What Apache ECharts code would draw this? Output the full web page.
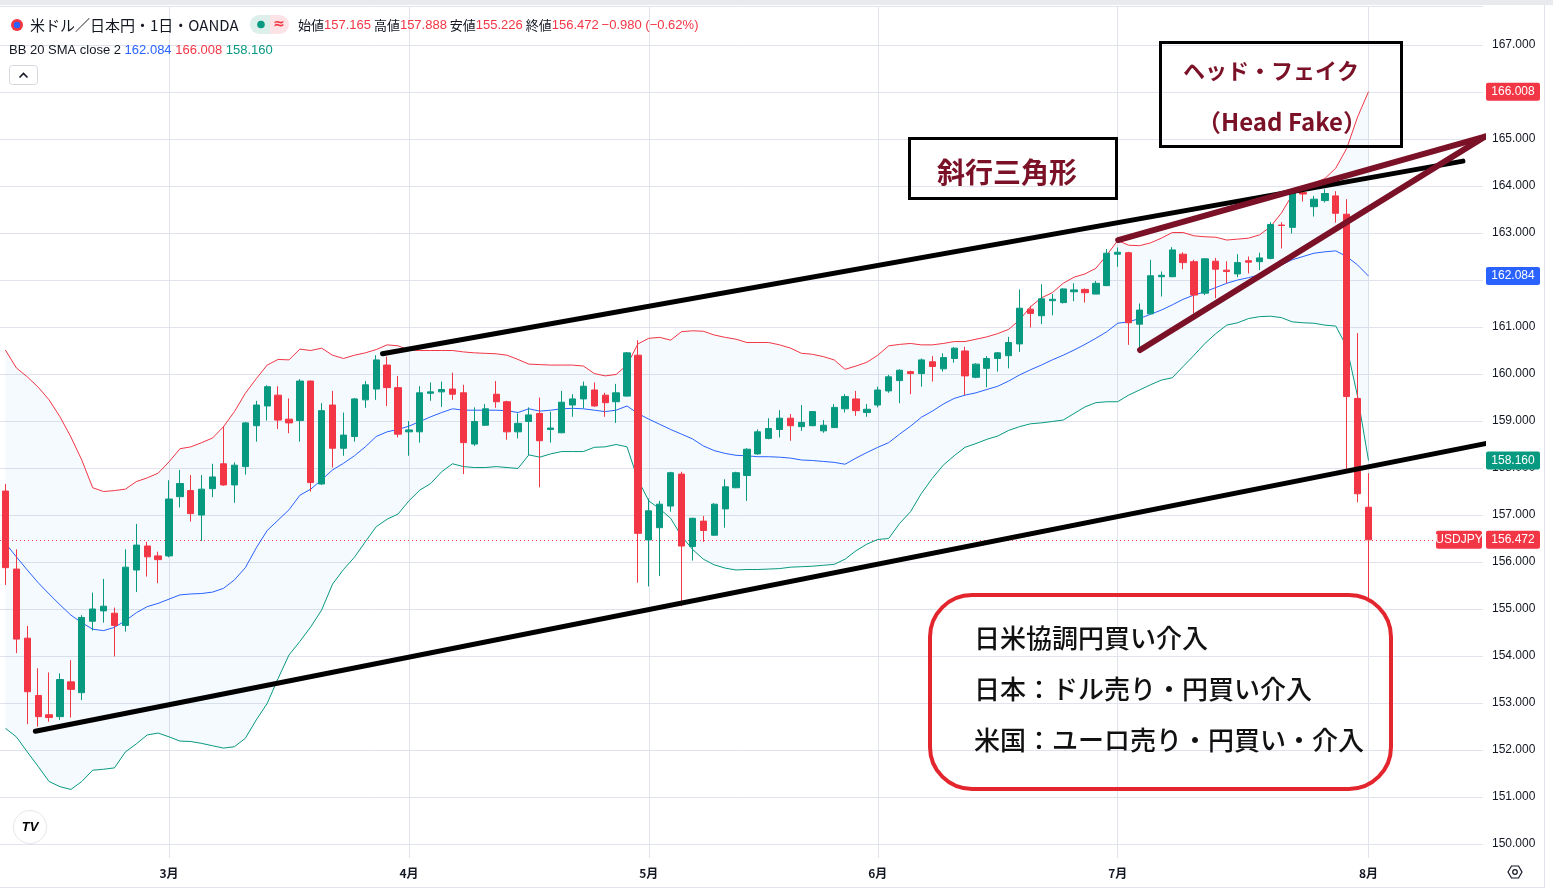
<!DOCTYPE html>
<html>
<head>
<meta charset="utf-8">
<script src="https://cdn.jsdelivr.net/npm/echarts/dist/echarts.min.js"></script>
<style>
  html, body { margin: 0; padding: 0; background: #fff; }
  #chart { width: 1553px; height: 892px; }
</style>
</head>
<body>
<div id="chart"></div>
<script>
// daily candles, [open, close, low, high]
const ohlc = [
  [157.51,155.88,155.51,157.66],[155.85,154.36,154.06,156.27],[154.38,153.24,152.55,154.64],[153.16,152.71,152.50,153.74],[152.75,152.69,152.60,153.65],
  [152.71,153.50,152.64,153.63],[153.45,153.29,152.69,153.91],[153.22,154.82,153.06,154.87],[154.74,155.00,154.54,155.35],[154.96,155.06,154.71,155.64],
  [154.91,154.65,153.99,155.03],[154.65,155.89,154.52,156.27],[155.83,156.36,155.36,156.81],[156.34,156.11,155.69,156.43],[156.13,156.05,155.55,156.22],
  [156.13,157.34,156.10,157.74],[157.39,157.67,157.16,157.96],[157.52,157.03,156.86,157.85],[157.00,157.55,156.45,157.85],[157.56,157.81,157.38,158.09],
  [158.09,157.64,157.62,158.89],[157.64,158.06,157.26,158.12],[158.03,158.96,157.86,158.98],[158.90,159.34,158.56,159.43],[159.32,159.73,159.01,159.76],
  [159.55,159.02,158.83,159.74],[159.04,158.96,158.74,159.48],[159.01,159.85,158.56,159.89],[159.85,157.69,157.50,159.86],[157.66,159.22,157.64,159.38],
  [159.34,158.42,158.01,159.64],[158.42,158.70,158.26,159.18],[158.67,159.47,158.56,159.49],[159.45,159.77,159.28,159.85],[159.68,160.30,159.45,160.40],
  [160.19,159.71,159.32,160.37],[159.71,158.72,158.65,159.96],[158.77,158.81,158.26,159.00],[158.77,159.60,158.54,159.74],[159.59,159.62,159.43,159.82],
  [159.62,159.67,159.30,159.84],[159.68,159.57,159.45,160.03],[159.60,158.54,157.87,159.77],[158.51,158.99,158.47,159.29],[158.91,159.26,158.90,159.36],
  [159.57,159.41,159.28,159.85],[159.41,158.77,158.60,159.43],[158.77,158.95,158.63,159.16],[158.99,159.13,158.28,159.29],[159.16,158.58,157.59,159.50],
  [158.82,158.85,158.54,159.20],[158.75,159.40,158.74,159.64],[159.34,159.47,159.09,159.57],[159.47,159.74,159.27,159.84],[159.66,159.32,159.30,159.82],
  [159.55,159.39,159.09,159.60],[159.41,159.60,158.96,159.79],[159.53,160.45,159.52,160.47],[160.40,156.61,155.56,160.72],[156.47,157.09,155.48,157.35],
  [156.73,157.23,155.70,157.30],[157.19,157.90,157.07,157.92],[157.87,156.34,155.06,157.92],[156.33,156.93,156.03,156.94],[156.87,156.67,156.43,156.98],
  [156.57,157.23,156.56,157.25],[157.13,157.60,156.73,157.76],[157.58,157.90,157.57,157.92],[157.84,158.40,157.30,158.42],[158.30,158.77,158.28,158.82],
  [158.63,158.84,158.61,159.06],[158.82,159.06,158.65,159.23],[159.06,158.90,158.58,159.15],[158.88,158.97,158.79,159.34],[158.90,159.20,158.89,159.21],
  [158.79,158.91,158.75,159.02],[158.86,159.29,158.86,159.36],[159.26,159.52,159.18,159.57],[159.47,159.22,159.11,159.64],[159.18,159.25,159.09,159.36],
  [159.34,159.66,159.29,159.73],[159.64,159.94,159.60,159.98],[159.86,160.08,159.38,160.10],[160.05,160.01,159.57,160.07],[160.01,160.30,159.73,160.33],
  [160.26,160.16,159.84,160.38],[160.11,160.35,160.05,160.44],[160.33,160.55,160.24,160.57],[160.49,159.96,159.55,160.58],[159.93,160.21,159.91,160.23],
  [160.12,160.33,159.72,160.38],[160.33,160.45,160.05,160.47],[160.39,160.67,160.12,160.79],[160.64,161.40,160.47,161.80],[161.38,161.29,160.99,161.45],
  [161.24,161.60,161.06,161.91],[161.56,161.59,161.25,161.70],[161.52,161.81,161.50,161.82],[161.75,161.79,161.55,161.93],[161.80,161.73,161.52,161.82],
  [161.70,161.93,161.70,161.98],[161.88,162.57,161.87,162.66],[162.55,162.59,162.28,162.69],[162.58,161.09,160.62,162.60],[161.06,161.36,160.55,161.50],
  [161.28,162.09,161.27,162.43],[162.07,162.10,161.65,162.18],[162.07,162.64,162.06,162.70],[162.55,162.37,162.23,162.59],[162.39,161.68,161.29,162.43],
  [161.72,162.45,161.68,162.46],[162.40,162.23,161.61,162.47],[162.21,162.18,161.93,162.40],[162.13,162.37,162.06,162.55],[162.41,162.38,162.14,162.50],
  [162.39,162.47,162.21,162.58],[162.46,163.18,162.44,163.23],[163.17,163.16,162.67,163.23],[163.12,163.84,162.99,163.95],[163.86,163.83,163.67,163.95],
  [163.56,163.72,163.35,163.79],[163.69,163.84,163.65,163.93],[163.79,163.42,163.22,163.89],[163.40,159.52,157.96,163.72],[159.48,157.452,157.27,160.87],
  [157.165,156.472,155.226,157.888]
];

// Bollinger Bands (20, 2)
const bbUpper = [
  160.51,160.13,159.94,159.72,159.45,159.09,158.66,158.17,157.58,157.50,
  157.52,157.55,157.71,157.79,157.89,158.13,158.41,158.45,158.54,158.64,
  158.88,159.20,159.59,159.90,160.19,160.31,160.30,160.53,160.50,160.55,
  160.40,160.33,160.40,160.45,160.52,160.62,160.60,160.51,160.50,160.50,
  160.50,160.50,160.47,160.45,160.44,160.43,160.40,160.31,160.21,160.20,
  160.19,160.19,160.19,160.17,160.01,159.96,159.99,160.19,160.64,160.76,
  160.78,160.72,160.90,160.92,160.91,160.83,160.78,160.74,160.67,160.67,
  160.67,160.62,160.55,160.44,160.42,160.37,160.30,160.10,160.17,160.25,
  160.40,160.60,160.63,160.65,160.62,160.62,160.65,160.69,160.69,160.74,
  160.79,160.86,160.95,161.15,161.43,161.62,161.73,161.93,162.06,162.13,
  162.25,162.53,162.84,162.74,162.73,162.79,162.89,163.01,163.01,162.94,
  162.92,162.91,162.85,162.87,162.89,162.96,163.13,163.42,163.81,163.95,
  164.06,164.16,164.38,164.80,165.47,166.008
];
const bbMid = [
  156.40,156.11,155.83,155.56,155.32,155.09,154.87,154.71,154.57,154.54,
  154.61,154.75,154.92,155.05,155.12,155.21,155.30,155.32,155.33,155.36,
  155.44,155.62,155.88,156.30,156.67,156.89,157.11,157.42,157.55,157.75,
  157.96,158.10,158.26,158.45,158.67,158.77,158.82,158.89,158.99,159.09,
  159.18,159.26,159.23,159.23,159.23,159.23,159.22,159.18,159.26,159.21,
  159.23,159.26,159.27,159.26,159.23,159.20,159.23,159.32,159.16,159.04,
  158.93,158.82,158.72,158.62,158.47,158.37,158.31,158.27,158.26,158.24,
  158.24,158.23,158.21,158.17,158.16,158.14,158.12,158.08,158.21,158.33,
  158.44,158.54,158.72,158.89,159.08,159.21,159.36,159.48,159.55,159.60,
  159.67,159.74,159.85,159.98,160.09,160.19,160.30,160.40,160.51,160.63,
  160.76,160.90,161.08,161.11,161.18,161.27,161.36,161.47,161.59,161.68,
  161.75,161.84,161.93,162.00,162.05,162.11,162.21,162.32,162.43,162.50,
  162.57,162.60,162.62,162.50,162.32,162.084
];
const bbLower = [
  152.46,152.28,151.96,151.65,151.33,151.22,151.16,151.33,151.57,151.59,
  151.62,151.96,152.13,152.32,152.36,152.28,152.19,152.18,152.14,152.09,
  152.04,152.07,152.25,152.64,152.99,153.52,154.02,154.31,154.62,154.98,
  155.53,155.84,156.10,156.43,156.75,156.91,157.02,157.30,157.53,157.67,
  157.92,158.09,158.03,158.01,158.01,158.03,158.01,157.99,158.28,158.23,
  158.30,158.35,158.35,158.35,158.44,158.45,158.50,158.45,157.75,157.30,
  157.13,156.93,156.55,156.27,156.06,155.94,155.87,155.83,155.84,155.84,
  155.85,155.86,155.89,155.90,155.91,155.93,155.95,156.06,156.24,156.38,
  156.48,156.50,156.82,157.07,157.46,157.78,158.06,158.26,158.44,158.52,
  158.61,158.68,158.80,158.88,158.94,158.96,158.99,159.02,159.16,159.30,
  159.39,159.41,159.41,159.55,159.66,159.77,159.87,159.92,160.16,160.40,
  160.65,160.86,161.04,161.09,161.18,161.22,161.23,161.20,161.11,161.09,
  161.08,161.04,161.02,160.58,159.52,158.16
];

// month starts (candle index) and their labels
const monthStart = [15, 37, 59, 80, 102, 125];
const monthNames = ['3月', '4月', '5月', '6月', '7月', '8月'];
const slotCount = 136; // candles + empty space on the right
const categories = Array.from({ length: slotCount }, (_, i) => String(i));

// hand drawn lines: [candle index, price]
const trendUpper = [[34.58, 160.43], [133.66, 164.53]];
const trendLower = [[2.74, 152.40], [137.51, 158.60]];
const wedgeTop = [[102.04, 162.85], [135.68, 165.05]];
const wedgeBottom = [[104.05, 160.51], [135.68, 165.05]];

const UP = '#089981', DOWN = '#F23645', BLUE = '#2962FF', GRID = '#e0e3eb', TXT = '#131722';
const MAROON = '#7b1127';

const last = ohlc[ohlc.length - 1];
const prevClose = ohlc[ohlc.length - 2][1];
const change = last[1] - prevClose;
const changePct = change / prevClose * 100;
const fmt = v => v.toFixed(3);
const minus = s => s.replace('-', '−');

const chart = echarts.init(document.getElementById('chart'));

const trendSeries = (data, color, width) => ({
    type: 'line',
    xAxisIndex: 1,
    data: data,
    symbol: 'none',
    clip: false,
    silent: true,
    z: 6,
    lineStyle: { color: color, width: width, cap: 'round' }
});

chart.setOption({
    animation: false,
    backgroundColor: '#fff',
    grid: { left: -3.41, right: 70, top: 6, bottom: 48 },
    xAxis: [
        {
            type: 'category',
            data: categories,
            boundaryGap: true,
            axisLine: { show: false },
            axisTick: {
                show: true,
                alignWithLabel: true,
                length: 14,
                interval: i => monthStart.includes(i),
                lineStyle: { color: GRID }
            },
            axisLabel: {
                interval: i => monthStart.includes(i),
                formatter: (v, i) => monthNames[monthStart.indexOf(i)] || '',
                margin: 23,
                color: TXT,
                fontSize: 12,
                fontWeight: 'bold',
                fontFamily: 'Noto Sans CJK JP'
            },
            splitLine: { show: false }
        },
        { type: 'value', min: -0.5, max: slotCount - 0.5, show: false }
    ],
    yAxis: {
        type: 'value',
        position: 'right',
        min: 150,
        max: 167.83,
        interval: 1,
        axisLine: { show: false },
        axisTick: { show: false },
        splitLine: { lineStyle: { color: GRID } },
        axisLabel: {
            margin: 9,
            color: TXT,
            fontSize: 12,
            fontFamily: 'Liberation Sans',
            showMaxLabel: false,
            formatter: v => Math.abs(v - Math.round(v)) < 1e-6 ? v.toFixed(3) : ''
        }
    },
    series: [
        {
            name: 'bbBase',
            type: 'line',
            data: bbLower,
            stack: 'bb',
            symbol: 'none',
            silent: true,
            z: 1,
            lineStyle: { opacity: 0 },
            markLine: {
                z: 0,
                silent: true,
                symbol: ['none', 'none'],
                label: { show: false },
                lineStyle: { color: GRID, width: 1, type: 'solid' },
                data: monthStart.map(i => ({ xAxis: i }))
            }
        },
        {
            name: 'bbFill',
            type: 'line',
            data: bbUpper.map((u, i) => +(u - bbLower[i]).toFixed(3)),
            stack: 'bb',
            symbol: 'none',
            silent: true,
            z: 1,
            lineStyle: { opacity: 0 },
            areaStyle: { color: 'rgba(33,150,243,0.06)' }
        },
        { type: 'line', data: bbUpper, symbol: 'none', z: 2, lineStyle: { color: DOWN, width: 1 } },
        { type: 'line', data: bbMid, symbol: 'none', z: 2, lineStyle: { color: BLUE, width: 1 } },
        { type: 'line', data: bbLower, symbol: 'none', z: 2, lineStyle: { color: UP, width: 1 } },
        {
            type: 'candlestick',
            data: ohlc,
            barWidth: '62%',
            z: 3,
            itemStyle: { color: UP, color0: DOWN, borderColor: UP, borderColor0: DOWN, borderWidth: 1 },
            markLine: {
                z: 2,
                silent: true,
                symbol: ['none', 'none'],
                label: { show: false },
                lineStyle: { color: DOWN, width: 1, type: [1, 3] },
                data: [{ yAxis: last[1] }]
            }
        },
        trendSeries(trendUpper, '#000', 5),
        trendSeries(trendLower, '#000', 5),
        trendSeries(wedgeTop, MAROON, 6),
        trendSeries(wedgeBottom, MAROON, 6)
    ]
});

const yPix = v => chart.convertToPixel({ yAxisIndex: 0 }, v);

function tag(v, text, bg, x, w) {
    const y = yPix(v);
    return [
        { type: 'rect', z: 100, shape: { x: x, y: y - 9, width: w, height: 18, r: 2 }, style: { fill: bg } },
        { type: 'text', z: 101, x: x + w / 2, y: y, style: { text: text, fill: '#fff', font: '12px "Liberation Sans"', align: 'center', verticalAlign: 'middle' } }
    ];
}

const jp = (size, weight) => (weight || 'normal') + ' ' + size + 'px "Noto Sans CJK JP"';

const bbLast = [bbMid[bbMid.length - 1], bbUpper[bbUpper.length - 1], bbLower[bbLower.length - 1]];

chart.setOption({
    graphic: [
        // frame
        { type: 'rect', z: 40, shape: { x: 0, y: 0, width: 1553, height: 5 }, style: { fill: '#e9eaee' } },
        { type: 'line', z: 40, shape: { x1: 1544.5, y1: 5, x2: 1544.5, y2: 887 }, style: { stroke: GRID, lineWidth: 1 } },
        { type: 'line', z: 40, shape: { x1: 0, y1: 887.5, x2: 1545, y2: 887.5 }, style: { stroke: GRID, lineWidth: 1 } },

        // header line 1
        { type: 'circle', z: 70, shape: { cx: 17, cy: 25, r: 6 }, style: { fill: '#f23645' } },
        { type: 'circle', z: 70, shape: { cx: 17, cy: 25, r: 3.2 }, style: { fill: '#2962ff' } },
        { type: 'text', z: 70, x: 30, y: 25, style: { text: '米ドル／日本円・1日・OANDA', fill: TXT, font: jp(15), verticalAlign: 'middle' } },
        { type: 'rect', z: 70, shape: { x: 250, y: 15, width: 20, height: 19, r: [9.5, 0, 0, 9.5] }, style: { fill: '#dcefea' } },
        { type: 'rect', z: 70, shape: { x: 270, y: 15, width: 19, height: 19, r: [0, 9.5, 9.5, 0] }, style: { fill: '#fde3e6' } },
        { type: 'circle', z: 71, shape: { cx: 261, cy: 24.5, r: 3.8 }, style: { fill: UP } },
        { type: 'text', z: 71, x: 279, y: 24, style: { text: '≈', fill: DOWN, font: 'bold 14px "DejaVu Sans"', align: 'center', verticalAlign: 'middle' } },
        {
            type: 'text', z: 70, x: 298, y: 25,
            style: {
                text: '{k|始値}{v|' + fmt(last[0]) + '} {k|高値}{v|' + fmt(last[3]) + '} {k|安値}{v|' + fmt(last[2]) +
                      '} {k|終値}{v|' + fmt(last[1]) + '} {v|' + minus(fmt(change)) + ' (' + minus(changePct.toFixed(2)) + '%)}',
                verticalAlign: 'middle',
                font: jp(13),
                rich: {
                    k: { fill: TXT, font: jp(13) },
                    v: { fill: DOWN, font: '13px "Liberation Sans"' }
                }
            }
        },

        // header line 2
        {
            type: 'text', z: 70, x: 9, y: 50,
            style: {
                text: '{k|BB 20 SMA close 2} {b|' + fmt(bbLast[0]) + '} {r|' + fmt(bbLast[1]) + '} {g|' + fmt(bbLast[2]) + '}',
                verticalAlign: 'middle',
                font: '13px "Liberation Sans"',
                rich: {
                    k: { fill: TXT, font: '13px "Liberation Sans"' },
                    b: { fill: BLUE, font: '13px "Liberation Sans"' },
                    r: { fill: DOWN, font: '13px "Liberation Sans"' },
                    g: { fill: UP, font: '13px "Liberation Sans"' }
                }
            }
        },
        { type: 'rect', z: 70, shape: { x: 9.5, y: 65.5, width: 28, height: 19, r: 3 }, style: { fill: '#fff', stroke: '#d6d8de', lineWidth: 1 } },
        { type: 'polyline', z: 71, shape: { points: [[19.5, 77.5], [23.5, 73.5], [27.5, 77.5]] }, style: { stroke: TXT, lineWidth: 1.6, fill: null } },

        // price scale tags
        ...tag(bbLast[1], fmt(bbLast[1]), DOWN, 1486, 54),
        ...tag(bbLast[0], fmt(bbLast[0]), BLUE, 1486, 54),
        ...tag(bbLast[2], fmt(bbLast[2]), UP, 1486, 54),
        ...tag(last[1], fmt(last[1]), DOWN, 1486, 54),
        ...tag(last[1], 'USDJPY', DOWN, 1436, 46),

        // annotation: head fake
        { type: 'rect', z: 80, shape: { x: 1160.5, y: 42.5, width: 241, height: 104 }, style: { fill: null, stroke: '#000', lineWidth: 3 } },
        { type: 'text', z: 80, x: 1271, y: 71, style: { text: 'ヘッド・フェイク', fill: MAROON, font: jp(22, 'bold'), align: 'center', verticalAlign: 'middle' } },
        { type: 'text', z: 80, x: 1282, y: 122, style: { text: '（Head Fake）', fill: MAROON, font: jp(24, 'bold'), align: 'center', verticalAlign: 'middle' } },

        // annotation: wedge
        { type: 'rect', z: 80, shape: { x: 909.5, y: 138.5, width: 207, height: 60 }, style: { fill: null, stroke: '#000', lineWidth: 3 } },
        { type: 'text', z: 80, x: 1007, y: 172, style: { text: '斜行三角形', fill: MAROON, font: jp(28, 'bold'), align: 'center', verticalAlign: 'middle' } },

        // annotation: intervention
        { type: 'rect', z: 80, shape: { x: 930, y: 595, width: 461, height: 194, r: 42 }, style: { fill: null, stroke: '#e3262e', lineWidth: 4 } },
        { type: 'text', z: 80, x: 974, y: 638, style: { text: '日米協調円買い介入', fill: '#111', font: jp(26, 500), verticalAlign: 'middle' } },
        { type: 'text', z: 80, x: 974, y: 689, style: { text: '日本：ドル売り・円買い介入', fill: '#111', font: jp(26, 500), verticalAlign: 'middle' } },
        { type: 'text', z: 80, x: 974, y: 740, style: { text: '米国：ユーロ売り・円買い・介入', fill: '#111', font: jp(26, 500), verticalAlign: 'middle' } },

        // logo and settings
        { type: 'circle', z: 70, shape: { cx: 30, cy: 827, r: 16.5 }, style: { fill: '#fff', stroke: '#e6e7eb', lineWidth: 1 } },
        { type: 'text', z: 71, x: 30, y: 827, style: { text: 'TV', fill: '#000', font: 'bold italic 13px "Liberation Sans"', align: 'center', verticalAlign: 'middle' } },
        { type: 'polygon', z: 70, shape: { points: [[1508, 872], [1511.5, 866], [1518.5, 866], [1522, 872], [1518.5, 878], [1511.5, 878]] }, style: { fill: null, stroke: TXT, lineWidth: 1.2 } },
        { type: 'circle', z: 70, shape: { cx: 1515, cy: 872, r: 2.3 }, style: { fill: null, stroke: TXT, lineWidth: 1.2 } }
    ]
});
</script>
</body>
</html>
